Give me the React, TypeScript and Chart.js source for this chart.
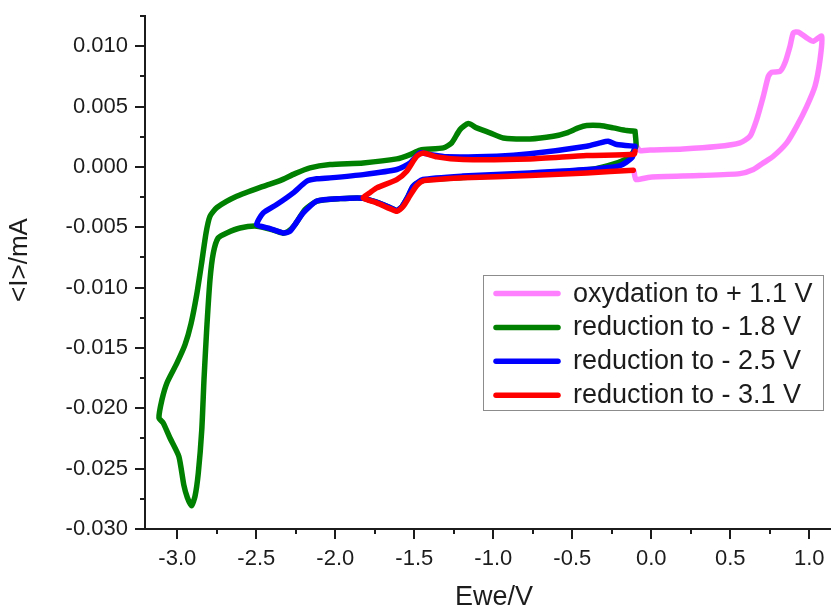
import React, { useEffect, useRef } from 'react';
import { Chart, registerables } from 'chart.js';

Chart.register(...registerables);

const FONT = '"Liberation Sans", Arial, sans-serif';
const INK = '#1c1c1c';

// Legend entries and line colours
const seriesLabels = [
  'oxydation to + 1.1 V',
  'reduction to - 1.8 V',
  'reduction to - 2.5 V',
  'reduction to - 3.1 V',
];
const seriesColors = ['#FF80FF', '#008000', '#0000FF', '#FF0000'];

// Oxidation sweep (Ewe / V, <I> / mA)
const oxPotential = [
  -0.097, -0.072, -0.008, 0.201, 0.414, 0.561, 0.625, 0.667, 0.709, 0.741, 0.762, 0.815,
  0.846, 0.878, 0.899, 0.93, 0.984, 1.025, 1.078, 1.068, 1.036, 0.984, 0.92, 0.857, 0.772,
  0.709, 0.646, 0.561, 0.308, -0.008, -0.097, -0.109,
];
const oxCurrent = [
  0.00177, 0.00135, 0.00139, 0.00148, 0.00168, 0.00199, 0.00254, 0.00392, 0.00585, 0.00751,
  0.00784, 0.00792, 0.00862, 0.01, 0.01111, 0.01116, 0.01069, 0.01041, 0.01082, 0.00889,
  0.00668, 0.00502, 0.00336, 0.00199, 0.00088, 0.00033, -0.00022, -0.00056, -0.00072,
  -0.00085, -0.00105, -0.00039,
];

// Reduction sweep, green trace
const red18Potential = [
  -0.103, -0.097, -0.135, -0.211, -0.388, -0.768, -1.192, -1.401, -1.464, -1.508, -1.54,
  -1.578, -1.61, -1.654, -1.749, -1.825, -1.97, -2.116, -2.192, -2.255, -2.299, -2.331,
  -2.401, -2.497, -2.603, -2.687, -2.741, -2.772, -2.793, -2.814, -2.831, -2.845, -2.867,
  -2.888, -2.91, -2.936, -2.959, -2.99, -3.047, -3.089, -3.116,
  -3.097, -3.065, -3.004, -2.951, -2.913, -2.877, -2.846, -2.818, -2.793, -2.749, -2.624,
  -2.456, -2.35, -2.255, -2.16, -2.034, -1.823, -1.611, -1.527, -1.464, -1.316, -1.263,
  -1.211, -1.158, -1.105, -1.021, -0.937, -0.768, -0.62, -0.535, -0.462, -0.409, -0.325,
  -0.241, -0.156, -0.103,
];
const red18Current = [
  0.00295, 0.00171, 0.00085, 0.00036, -0.00022, -0.00056, -0.00089, -0.00105, -0.00122,
  -0.00163, -0.00246, -0.00329, -0.00362, -0.00337, -0.00288, -0.00259, -0.00263, -0.00283,
  -0.00354, -0.00478, -0.00536, -0.00549, -0.0052, -0.00491, -0.00506, -0.00547, -0.00588,
  -0.00713, -0.00934, -0.01348, -0.01763, -0.02177, -0.02536, -0.0273, -0.02807, -0.02741,
  -0.02633, -0.02399, -0.02244, -0.02122, -0.0208,
  -0.01929, -0.01788, -0.0163, -0.01473, -0.01299, -0.01058, -0.00796, -0.00547, -0.00409,
  -0.00337, -0.00244, -0.00161, -0.00114, -0.00056, -0.00008, 0.00019, 0.00033, 0.00066,
  0.00102, 0.00139, 0.00157, 0.00199, 0.00309, 0.00359, 0.00323, 0.00282, 0.0024, 0.00232,
  0.00254, 0.00282, 0.00323, 0.00342, 0.00342, 0.00323, 0.00301, 0.00295,
];

// Reduction sweep, blue trace
const red25Potential = [
  -0.103, -0.122, -0.198, -0.407, -0.768, -1.192, -1.445, -1.508, -1.54, -1.578, -1.61,
  -1.654, -1.749, -1.825, -1.97, -2.116, -2.203, -2.287, -2.329, -2.413, -2.497,
  -2.456, -2.371, -2.266, -2.181, -2.118, -2.034, -1.823, -1.611, -1.527, -1.464, -1.401,
  -1.295, -0.978, -0.768, -0.409, -0.325, -0.273, -0.219, -0.103,
];
const red25Current = [
  0.00168, 0.00077, 0.00011, -0.00022, -0.0005, -0.00076, -0.00105, -0.00161, -0.00246,
  -0.00329, -0.00362, -0.00337, -0.00288, -0.00259, -0.00263, -0.00283, -0.00381, -0.00534,
  -0.00547, -0.00511, -0.00478,
  -0.00381, -0.00312, -0.00215, -0.00119, -0.00099, -0.00091, -0.00064, -0.00022, 0.00033,
  0.00116, 0.00102, 0.00083, 0.00088, 0.00108, 0.00171, 0.00199, 0.00212, 0.00185, 0.00171,
];

// Reduction sweep, red trace
const red31Potential = [
  -0.114, -0.409, -0.768, -1.19, -1.358, -1.443, -1.485, -1.527, -1.571, -1.61, -1.654,
  -1.738, -1.823,
  -1.78, -1.738, -1.611, -1.548, -1.485, -1.443, -1.358, -1.19, -0.768, -0.409, -0.109,
  -0.103,
];
const red31Current = [
  -0.00028, -0.0005, -0.00072, -0.00091, -0.00105, -0.00114, -0.00155, -0.00238, -0.00329,
  -0.00368, -0.00346, -0.00298, -0.00257,
  -0.00213, -0.00174, -0.00105, -0.00036, 0.00088, 0.00116, 0.00083, 0.00061, 0.00066,
  0.00094, 0.00104, 0.00129,
];

// Axis ranges and labelled ticks
const xRange = [-3.2044, 1.2133];
const yRange = [-0.03, 0.0125];
const xTickValues = [-3.0, -2.5, -2.0, -1.5, -1.0, -0.5, 0.0, 0.5, 1.0];
const yTickValues = [-0.03, -0.025, -0.02, -0.015, -0.01, -0.005, 0.0, 0.005, 0.01];

const toPoints = (xs: number[], ys: number[]) => xs.map((x, i) => ({ x, y: ys[i] }));

// Minor ticks sit halfway between labelled ones (and past the ends when in range)
const minorTicks = (major: number[], min: number, max: number) => {
  const step = major[1] - major[0];
  const out: number[] = [];
  const first = major[0] - step / 2;
  if (first >= min) out.push(first);
  major.forEach((v) => {
    const m = v + step / 2;
    if (m <= max + 1e-9) out.push(m);
  });
  return out;
};

const tickMarksPlugin = {
  id: 'tickMarks',
  afterDraw(chart: any) {
    const { ctx, chartArea } = chart;
    const xs = chart.scales.x;
    const ys = chart.scales.y;
    ctx.save();
    ctx.strokeStyle = INK;
    ctx.lineWidth = 2;
    const xMark = (v: number, len: number) => {
      const p = Math.round(xs.getPixelForValue(v));
      ctx.beginPath();
      ctx.moveTo(p, chartArea.bottom);
      ctx.lineTo(p, chartArea.bottom + len);
      ctx.stroke();
    };
    const yMark = (v: number, len: number) => {
      const p = Math.round(ys.getPixelForValue(v));
      ctx.beginPath();
      ctx.moveTo(chartArea.left, p);
      ctx.lineTo(chartArea.left - len, p);
      ctx.stroke();
    };
    xTickValues.forEach((v) => xMark(v, 10));
    minorTicks(xTickValues, xRange[0], xRange[1]).forEach((v) => xMark(v, 5));
    yTickValues.forEach((v) => yMark(v, 10));
    minorTicks(yTickValues, yRange[0], yRange[1]).forEach((v) => yMark(v, 5));
    ctx.restore();
  },
};

const yTitlePlugin = {
  id: 'yTitle',
  afterDraw(chart: any) {
    const { ctx } = chart;
    ctx.save();
    ctx.translate(20, 260);
    ctx.rotate(-Math.PI / 2);
    ctx.fillStyle = INK;
    ctx.font = `26px ${FONT}`;
    ctx.textAlign = 'center';
    ctx.textBaseline = 'middle';
    ctx.fillText('<I>/mA', 0, 0);
    ctx.restore();
  },
};

const boxedLegendPlugin = {
  id: 'boxedLegend',
  afterDraw(chart: any) {
    const { ctx } = chart;
    const datasets = chart.data.datasets;
    ctx.save();
    ctx.fillStyle = '#ffffff';
    ctx.fillRect(483.5, 275.5, 340, 135);
    ctx.strokeStyle = '#8c8c8c';
    ctx.lineWidth = 1;
    ctx.strokeRect(483.5, 275.5, 340, 135);
    ctx.font = `27px ${FONT}`;
    ctx.textAlign = 'left';
    ctx.textBaseline = 'alphabetic';
    datasets.forEach((ds: any, i: number) => {
      const y = 293.5 + i * 33.9;
      ctx.strokeStyle = ds.borderColor;
      ctx.lineWidth = 5.5;
      ctx.lineCap = 'round';
      ctx.beginPath();
      ctx.moveTo(496, y);
      ctx.lineTo(558, y);
      ctx.stroke();
      ctx.fillStyle = INK;
      ctx.fillText(ds.label, 573, y + 8);
    });
    ctx.restore();
  },
};

export default function App() {
  const canvasRef = useRef<HTMLCanvasElement | null>(null);

  useEffect(() => {
    const canvas = canvasRef.current;
    if (!canvas) return;
    const seriesData = [
      toPoints(oxPotential, oxCurrent),
      toPoints(red18Potential, red18Current),
      toPoints(red25Potential, red25Current),
      toPoints(red31Potential, red31Current),
    ];
    const drawOrder = [3, 2, 1, 0];
    const chart = new Chart(canvas, {
      type: 'line',
      data: {
        datasets: seriesData.map((data, i) => ({
          label: seriesLabels[i],
          data,
          borderColor: seriesColors[i],
          backgroundColor: seriesColors[i],
          order: drawOrder[i],
          fill: false,
        })),
      },
      options: {
        animation: false,
        responsive: false,
        devicePixelRatio: 1,
        layout: { padding: { top: 16, left: 0, right: 0, bottom: 0 } },
        elements: {
          point: { radius: 0, hoverRadius: 0 },
          line: {
            tension: 0.2,
            borderWidth: 5.5,
            borderCapStyle: 'round',
            borderJoinStyle: 'round',
          },
        },
        plugins: {
          legend: { display: false },
          tooltip: { enabled: false },
        },
        scales: {
          x: {
            type: 'linear',
            min: xRange[0],
            max: xRange[1],
            afterBuildTicks: (scale: any) => {
              scale.ticks = xTickValues.map((value) => ({ value }));
            },
            afterFit: (scale: any) => {
              scale.height = 81;
              scale.paddingLeft = 0;
              scale.paddingRight = 0;
            },
            grid: { display: true, drawOnChartArea: false, drawTicks: false },
            border: { display: true, color: INK, width: 2 },
            ticks: {
              padding: 17,
              color: INK,
              font: { family: FONT, size: 22 },
              maxRotation: 0,
              autoSkip: false,
              callback: (v: any) => Number(v).toFixed(1),
            },
            title: {
              display: true,
              text: 'Ewe/V',
              color: INK,
              font: { family: FONT, size: 27, lineHeight: 0.9 },
              padding: 0,
            },
          },
          y: {
            type: 'linear',
            min: yRange[0],
            max: yRange[1],
            afterBuildTicks: (scale: any) => {
              scale.ticks = yTickValues.map((value) => ({ value }));
            },
            afterFit: (scale: any) => {
              scale.width = 145;
              scale.paddingTop = 0;
              scale.paddingBottom = 0;
            },
            grid: { display: true, drawOnChartArea: false, drawTicks: false },
            border: { display: true, color: INK, width: 2 },
            ticks: {
              padding: 17,
              color: INK,
              font: { family: FONT, size: 22 },
              autoSkip: false,
              callback: (v: any) => Number(v).toFixed(3),
            },
          },
        },
      },
      plugins: [tickMarksPlugin, yTitlePlugin, boxedLegendPlugin],
    } as any);
    return () => chart.destroy();
  }, []);

  return (
    <div
      style={{
        position: 'fixed',
        left: 0,
        top: 0,
        width: 831,
        height: 610,
        overflow: 'hidden',
        background: '#ffffff',
      }}
    >
      <canvas ref={canvasRef} width={843} height={610} style={{ display: 'block' }} />
    </div>
  );
}
